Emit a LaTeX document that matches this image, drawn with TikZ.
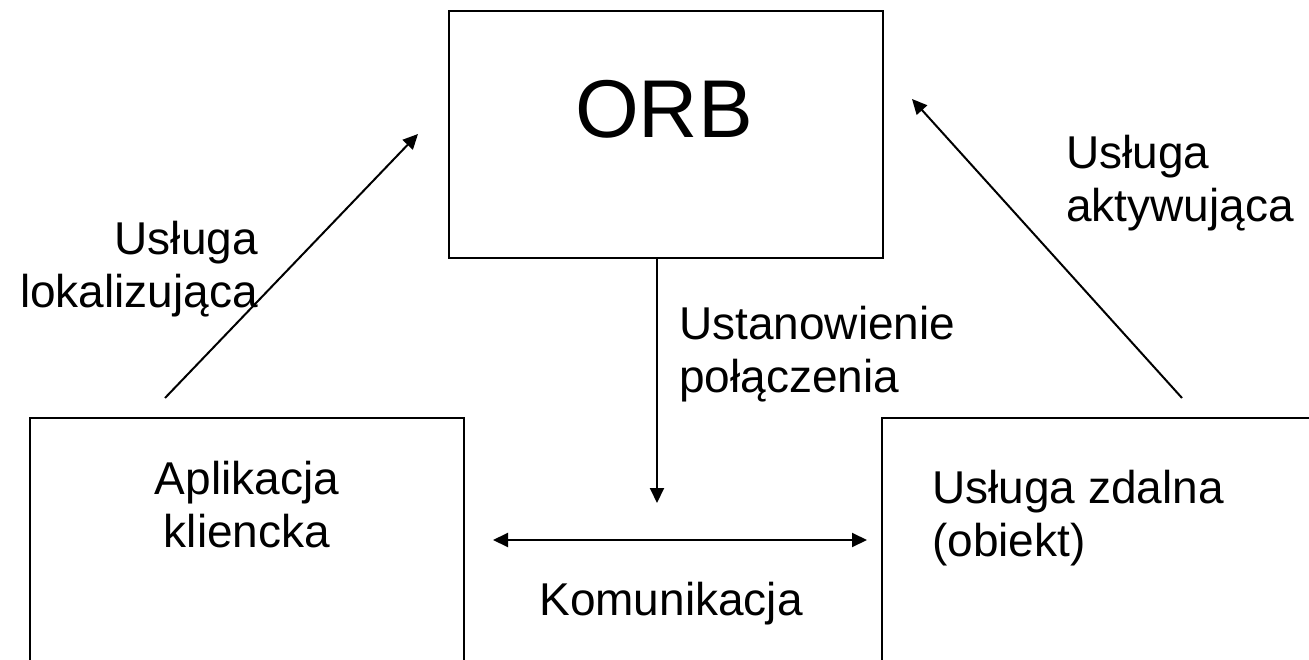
\documentclass[tikz,border=0pt]{standalone}
\usepackage{fontspec}
\setmainfont{Liberation Sans}
\usetikzlibrary{arrows.meta}
\begin{document}
\begin{tikzpicture}[x=1pt,y=-1pt,
  box/.style={draw, line width=1.8pt, inner sep=0pt},
  lbl/.style={inner sep=0pt, font=\fontsize{46}{53}\selectfont},
  tip/.style={Triangle[length=15pt,width=14pt]},
  arr/.style={line width=2pt, -{Triangle[length=15pt,width=14pt]}},
  darr/.style={line width=2pt, {Triangle[length=15pt,width=14pt]}-{Triangle[length=15pt,width=14pt]}}
]
\useasboundingbox (0,0) rectangle (1309,660);
\clip (0,0) rectangle (1309,660);
% boxes
\node[box, minimum width=434pt, minimum height=247pt, anchor=north west] (orb) at (448,10) {};
\node[box, minimum width=434pt, minimum height=300pt, anchor=north west] (app) at (29,417) {};
\node[box, minimum width=500pt, minimum height=300pt, anchor=north west] (srv) at (881,417) {};
% texts
\node[lbl, font=\fontsize{82}{90}\selectfont, anchor=base] (orbt) at (664,138) {ORB};
\node[lbl, align=center, anchor=base] (appt) at (247,547) {Aplikacja\\kliencka};
\node[lbl, align=left, anchor=base west] (srvt) at (932,556) {Usługa zdalna\\(obiekt)};
\node[lbl, align=right, anchor=base east] (lok) at (258,308) {Usługa\\lokalizująca};
\node[lbl, align=left, anchor=base west] (akt) at (1066,222) {Usługa\\aktywująca};
\node[lbl, align=left, anchor=base west] (ust) at (679,392) {Ustanowienie\\połączenia};
\node[lbl, anchor=base] (kom) at (671,615) {Komunikacja};
% connectors
\coordinate (l0) at (165,398); \coordinate (l1) at (418,134);
\coordinate (r0) at (1182,398); \coordinate (r1) at (912,99);
\coordinate (v1) at (657,503);
\coordinate (h0) at (493,540); \coordinate (h1) at (867,540);
\draw[arr] (l0) -- (l1);
\draw[arr] (r0) -- (r1);
\draw[arr] (orb.south -| v1) -- (v1);
\draw[darr] (h0) -- (h1);
\end{tikzpicture}
\end{document}
